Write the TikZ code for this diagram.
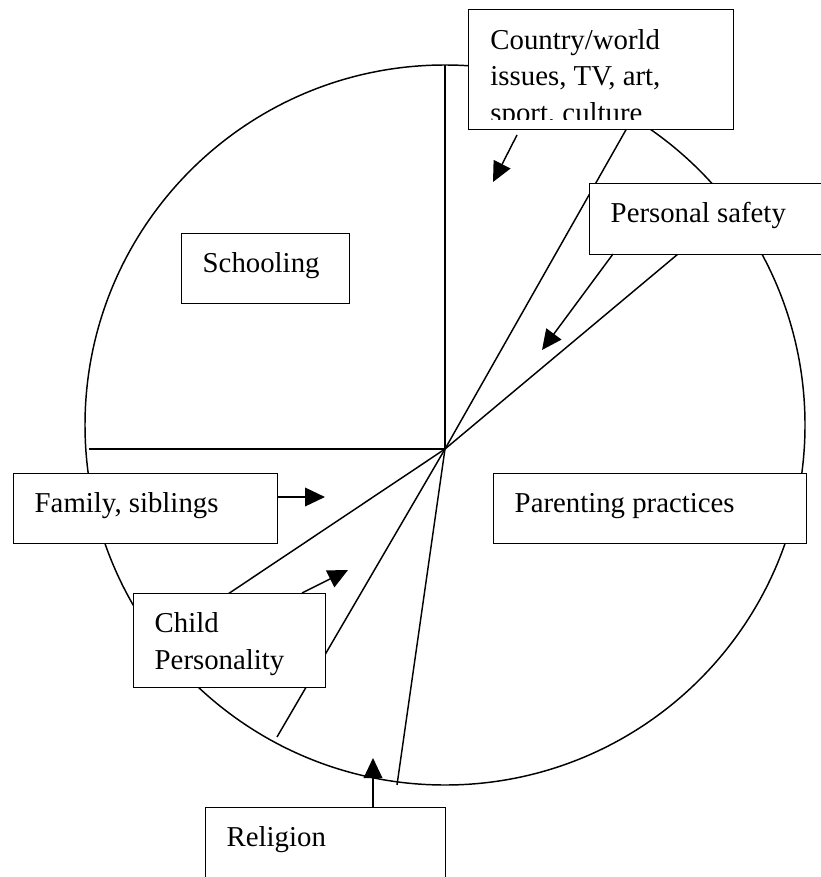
\documentclass[tikz,border=0pt]{standalone}
\usepackage{fontspec}
\setmainfont{Liberation Serif}
\usetikzlibrary{arrows.meta}
\newlength\pxu
\setlength\pxu{0.75pt}
\newcommand\boxtext[3]{\parbox[b][#2\pxu][t]{#1\pxu}{\raggedright\setlength\leftskip{21\pxu}\rule{0pt}{39\pxu}#3}}
\begin{document}
\begin{tikzpicture}[x=0.75pt,y=-0.75pt,line width=1.1pt,
  txtfont/.style={font=\fontsize{21.6pt}{27.4pt}\selectfont},
  frame/.style={draw,fill=white,inner sep=0pt,anchor=north west,txtfont},
  arr/.style={-{Triangle[length=15pt,width=14pt]}}]
\useasboundingbox (0,0) rectangle (820,877);
% centre point and divider ends
\coordinate (P) at (445,449);
\coordinate (T) at (445,65);
\coordinate (L) at (89,449);
\coordinate (A1) at (627,128);
\coordinate (A2) at (277,737);
\coordinate (B1) at (678,254);
\coordinate (B2) at (222,598);
\coordinate (C1) at (397,785);
\draw (P) -- (T);
\draw (P) -- (L);
\draw (P) -- (A1);
\draw (P) -- (A2);
\draw (P) -- (B1);
\draw (P) -- (B2);
\draw (P) -- (C1);
\draw (445,425) circle[radius=270pt];
% boxes
\node[frame] (school) at (181,233) {\boxtext{168}{70}{Schooling}};
\node[frame,minimum width=265\pxu,minimum height=120\pxu,
  path picture={
    \clip (path picture bounding box.north west) rectangle ([yshift=7.5pt]path picture bounding box.south east);
    \node[inner sep=0pt,anchor=north west,txtfont] at (path picture bounding box.north west)
      {\boxtext{265}{120}{Country/world\\issues, TV, art,\\sport, culture}};
  }] (country) at (468,9) {};
\node[frame] (safety) at (589,183) {\boxtext{240}{71}{Personal safety}};
\node[frame] (family) at (13,473) {\boxtext{264}{70}{Family, siblings}};
\node[frame] (parent) at (493,473) {\boxtext{313}{70}{Parenting practices}};
\node[frame] (child) at (133,593) {\boxtext{192}{94}{Child\\Personality}};
\node[frame] (relig) at (205,807) {\boxtext{240}{85}{Religion}};
% arrows
\coordinate (ca0) at (517,135);
\coordinate (ca1) at (493,182);
\coordinate (sa0) at (613,254);
\coordinate (sa1) at (542,350);
\coordinate (fa0) at (277,497);
\coordinate (fa1) at (325,497);
\coordinate (cha0) at (302,593);
\coordinate (cha1) at (348,570);
\coordinate (ra0) at (373,807);
\coordinate (ra1) at (373,758);
\draw[arr] (ca0) -- (ca1);
\draw[arr] (sa0) -- (sa1);
\draw[arr] (fa0) -- (fa1);
\draw[arr] (cha0) -- (cha1);
\draw[arr] (ra0) -- (ra1);
\end{tikzpicture}
\end{document}
